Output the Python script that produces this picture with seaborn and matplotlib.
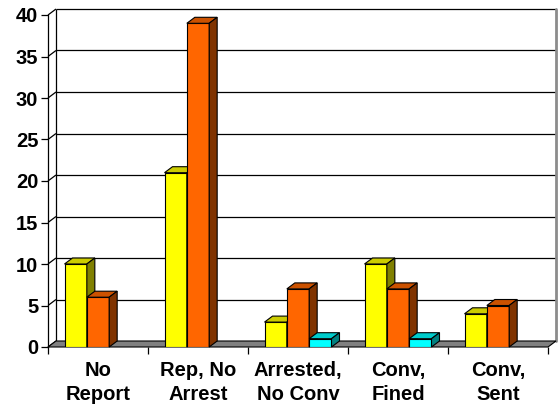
import numpy as np
import pandas as pd
import matplotlib
matplotlib.use("Agg")
import matplotlib.pyplot as plt
from matplotlib.patches import Polygon, Rectangle
import seaborn as sns

# ---- data ----
categories = ["No\nReport", "Rep, No\nArrest", "Arrested,\nNo Conv", "Conv,\nFined", "Conv,\nSent"]
series_names = ["Series 1", "Series 2", "Series 3"]
series1_values = [10, 21, 3, 10, 4]
series2_values = [6, 39, 7, 7, 5]
series3_values = [0, 0, 1, 1, 0]
y_tick_values = [0, 5, 10, 15, 20, 25, 30, 35, 40]

series_colors = ["#FFFF00", "#FF6600", "#00FFFF"]

df = pd.DataFrame({
    "category": categories * 3,
    "series": [s for s in series_names for _ in categories],
    "value": series1_values + series2_values + series3_values,
})

sns.set_theme(style="white")
plt.rcParams["font.family"] = ["Liberation Sans", "DejaVu Sans"]

W, H = 558, 408
fig = plt.figure(figsize=(W / 100, H / 100), dpi=100)
fig.patch.set_facecolor("white")
ax_l, ax_b, ax_w, ax_h = 48, 61, 500, 332
ax = fig.add_axes([ax_l / W, ax_b / H, ax_w / W, ax_h / H])

sns.barplot(data=df, x="category", y="value", hue="series", order=categories,
            hue_order=series_names, palette=series_colors, saturation=1,
            width=0.67, edgecolor="black", linewidth=0.8, errorbar=None,
            legend=False, ax=ax)

ax.set_xlim(-0.5, len(categories) - 0.5)
ax.set_ylim(0, 40)
ax.set_xlabel("")
ax.set_ylabel("")

# depth of the pseudo-3D box, in data units (8 px right, 6 px up)
x0, x1 = ax.get_xlim()
y0, y1 = ax.get_ylim()
DX = 8 * (x1 - x0) / ax_w
DY = 6 * (y1 - y0) / ax_h

for side in ["top", "right", "bottom"]:
    ax.spines[side].set_visible(False)
ax.spines["left"].set_color("black")
ax.spines["left"].set_linewidth(0.9)
ax.spines["left"].set_zorder(6)

line_kw = dict(color="black", lw=0.9, clip_on=False, solid_capstyle="butt")

# back wall gridlines and side-wall diagonals
for v in y_tick_values:
    if v > 0:
        ax.plot([x0 + DX, x1 + DX], [v + DY, v + DY], zorder=1, **line_kw)
    ax.plot([x0, x0 + DX], [v, v + DY], zorder=1, **line_kw)
# back wall outline
ax.plot([x0 + DX, x0 + DX], [DY, y1 + DY], zorder=1, **line_kw)
ax.plot([x1 + DX, x1 + DX], [DY, y1 + DY], color="#8c8c8c", lw=2,
        clip_on=False, zorder=1)

# floor
floor = Polygon([(x0, 0), (x1, 0), (x1 + DX, DY), (x0 + DX, DY)], closed=True,
                facecolor="#808080", edgecolor="black", lw=0.8,
                clip_on=False, zorder=2)
ax.add_patch(floor)

# bars: add top and side faces, drawn left to right so nearer faces overlap
bars = [p for p in ax.patches if isinstance(p, Rectangle)]
bars.sort(key=lambda p: p.get_x())
for i, bar in enumerate(bars):
    h = bar.get_height()
    if h <= 0:
        bar.set_visible(False)
        continue
    z = 3 + 0.1 * i
    bx0 = bar.get_x()
    bx1 = bx0 + bar.get_width()
    rgb = np.array(bar.get_facecolor()[:3])
    bar.set_zorder(z)
    top = Polygon([(bx0, h), (bx1, h), (bx1 + DX, h + DY), (bx0 + DX, h + DY)],
                  closed=True, facecolor=rgb * 0.8, edgecolor="black",
                  lw=0.8, clip_on=False, zorder=z)
    side = Polygon([(bx1, 0), (bx1 + DX, DY), (bx1 + DX, h + DY), (bx1, h)],
                   closed=True, facecolor=rgb * 0.5, edgecolor="black",
                   lw=0.8, clip_on=False, zorder=z)
    ax.add_patch(top)
    ax.add_patch(side)

# value axis ticks
ax.set_yticks(y_tick_values)
ax.set_yticklabels([str(v) for v in y_tick_values])
ax.tick_params(axis="y", left=True, length=5, width=0.9, pad=2,
               colors="black", labelsize=14.5, direction="out")
for lbl in ax.get_yticklabels():
    lbl.set_fontweight("bold")

# category axis: tick marks between groups, labels at group centres
ax.set_xticks(np.arange(-0.5, len(categories), 1.0))
ax.set_xticklabels([])
ax.set_xticks(np.arange(len(categories)), minor=True)
ax.set_xticklabels(categories, minor=True, fontweight="bold",
                   linespacing=1.32)
ax.tick_params(axis="x", which="major", bottom=True, length=5, width=0.9,
               colors="black", direction="out")
ax.tick_params(axis="x", which="minor", bottom=True, length=0, pad=10,
               labelsize=14.5, labelcolor="black")
ax.grid(False)

fig.savefig("out.png", dpi=100, facecolor="white")
